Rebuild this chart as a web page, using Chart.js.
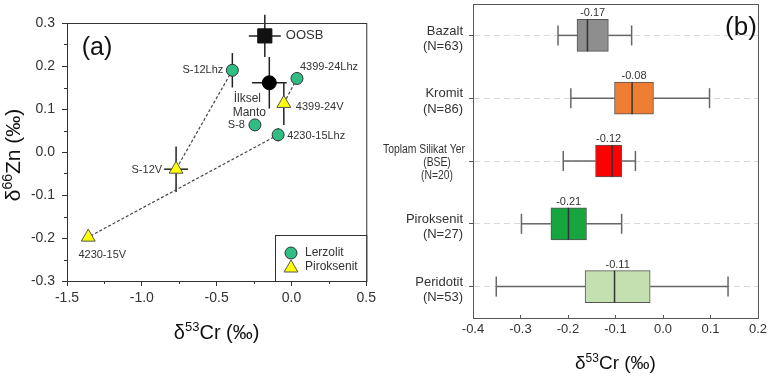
<!DOCTYPE html>
<html>
<head>
<meta charset="utf-8">
<script src="https://cdn.jsdelivr.net/npm/chart.js@4.4.1/dist/chart.umd.min.js"></script>
<style>
  html, body { margin: 0; padding: 0; background: #fff; }
  #wrap { position: relative; width: 771px; height: 376px; }
  #chartA { position: absolute; left: 0; top: 0; }
  #chartB { position: absolute; left: 380px; top: 0; }
</style>
</head>
<body>
<div id="wrap">
  <canvas id="chartA" width="380" height="376"></canvas>
  <canvas id="chartB" width="391" height="376"></canvas>
</div>
<script>
// ---- panel (a): d53Cr vs d66Zn ----
const lerzNames = ['S-12Lhz', '4399-24Lhz', 'S-8', '4230-15Lhz'];
const lerzCr = [-0.395, 0.037, -0.244, -0.089];
const lerzZn = [0.19, 0.171, 0.063, 0.04];
const lerzCrErr = [0, 0, 0, 0];
const lerzZnErr = [0.04, 0, 0, 0.015];

const pirokNames = ['S-12V', '4399-24V', '4230-15V'];
const pirokCr = [-0.771, -0.051, -1.358];
const pirokZn = [-0.04, 0.113, -0.198];
const pirokCrErr = [0.08, 0, 0];
const pirokZnErr = [0.053, 0.05, 0];

// reference reservoirs
const refNames = ['OOSB', 'İlksel Manto'];
const refCr = [-0.178, -0.148];
const refZn = [0.27, 0.161];
const refCrErr = [0.107, 0.116];
const refZnErr = [0.049, 0.06];

// lerzolit index -> piroksenit index (same sample)
const pairs = [[0, 0], [1, 1], [3, 2]];

// ---- panel (b): d53Cr box plots ----
const groups = [
  ['Bazalt', '(N=63)'],
  ['Kromit', '(N=86)'],
  ['Toplam Silikat Yer', '(BSE)', '(N=20)'],
  ['Piroksenit', '(N=27)'],
  ['Peridotit', '(N=53)']
];
const whiskerMin = [-0.221, -0.194, -0.210, -0.298, -0.351];
const q1 = [-0.181, -0.102, -0.142, -0.236, -0.164];
const median = [-0.159, -0.065, -0.107, -0.199, -0.102];
const q3 = [-0.115, -0.020, -0.087, -0.161, -0.027];
const whiskerMax = [-0.066, 0.098, -0.058, -0.087, 0.137];
const means = [-0.17, -0.08, -0.12, -0.21, -0.11];

// styles
const FONT = '"Liberation Sans", Arial, sans-serif';
const INK = '#333';
const boxColors = ['#8e8e8e', '#ee7d31', '#ff0000', '#17a540', '#c4dfb0'];
const lerzColor = '#2fbd84';
const pirokColor = '#ffff00';

// label placement for panel (a), pixels from the marker
const labelPos = {
  'S-12Lhz': [-9, 0, 'right'],
  '4399-24Lhz': [3, -12, 'left'],
  'S-8': [-10, 0, 'right'],
  '4230-15Lhz': [9, 1, 'left'],
  'S-12V': [-14, 1, 'right'],
  '4399-24V': [12, 4, 'left'],
  '4230-15V': [14, 18, 'center']
};

function line(ctx, x1, y1, x2, y2) {
  ctx.beginPath();
  ctx.moveTo(x1, y1);
  ctx.lineTo(x2, y2);
  ctx.stroke();
}

// text with superscript parts: [[text, isSup], ...], centred on cx, baseline at cy
function supText(ctx, parts, cx, cy, size) {
  const big = size + 'px ' + FONT;
  const small = Math.round(size * 0.65) + 'px ' + FONT;
  let w = 0;
  parts.forEach(([t, s]) => { ctx.font = s ? small : big; w += ctx.measureText(t).width; });
  let xx = cx - w / 2;
  ctx.textAlign = 'left';
  ctx.textBaseline = 'alphabetic';
  parts.forEach(([t, s]) => {
    ctx.font = s ? small : big;
    ctx.fillText(t, xx, s ? cy - size * 0.38 : cy);
    xx += ctx.measureText(t).width;
  });
}

function pts(xs, ys) {
  return xs.map((v, i) => ({ x: v, y: ys[i] }));
}

const tieSets = pairs.map(([a, b]) => ({
  data: [{ x: lerzCr[a], y: lerzZn[a] }, { x: pirokCr[b], y: pirokZn[b] }],
  showLine: true,
  borderColor: '#444',
  borderWidth: 1.2,
  borderDash: [3, 2],
  pointRadius: 0,
  order: 10
}));

const panelA = {
  id: 'panelA',
  beforeDatasetsDraw(chart) {
    const { ctx, scales: { x, y } } = chart;
    ctx.save();
    ctx.strokeStyle = '#222';
    ctx.lineWidth = 1.5;
    const bars = (cr, zn, ce, ze) => cr.forEach((v, i) => {
      const px = x.getPixelForValue(v), py = y.getPixelForValue(zn[i]);
      if (ce[i]) line(ctx, x.getPixelForValue(v - ce[i]), py, x.getPixelForValue(v + ce[i]), py);
      if (ze[i]) line(ctx, px, y.getPixelForValue(zn[i] - ze[i]), px, y.getPixelForValue(zn[i] + ze[i]));
    });
    bars(lerzCr, lerzZn, lerzCrErr, lerzZnErr);
    bars(pirokCr, pirokZn, pirokCrErr, pirokZnErr);
    bars(refCr, refZn, refCrErr, refZnErr);
    ctx.restore();
  },
  afterDraw(chart) {
    const { ctx, chartArea: a, scales: { x, y } } = chart;
    ctx.save();
    // frame
    ctx.strokeStyle = INK;
    ctx.lineWidth = 1;
    ctx.strokeRect(a.left + 0.5, a.top + 0.5, a.right - a.left, a.bottom - a.top);
    // minor ticks
    for (let v = -1.25; v < 0.5; v += 0.5) {
      const px = Math.round(x.getPixelForValue(v)) + 0.5;
      line(ctx, px, a.bottom, px, a.bottom + 3);
    }
    for (let v = -0.25; v < 0.3; v += 0.1) {
      const py = Math.round(y.getPixelForValue(v)) + 0.5;
      line(ctx, a.left - 3, py, a.left, py);
    }
    // sample labels
    ctx.fillStyle = INK;
    ctx.textBaseline = 'middle';
    ctx.font = '11px ' + FONT;
    const lab = (names, cr, zn) => names.forEach((n, i) => {
      const p = labelPos[n];
      ctx.textAlign = p[2];
      ctx.fillText(n, x.getPixelForValue(cr[i]) + p[0], y.getPixelForValue(zn[i]) + p[1]);
    });
    lab(lerzNames, lerzCr, lerzZn);
    lab(pirokNames, pirokCr, pirokZn);
    // reference labels
    ctx.font = '13px ' + FONT;
    ctx.textAlign = 'left';
    ctx.fillText(refNames[0], x.getPixelForValue(refCr[0]) + 21, y.getPixelForValue(refZn[0]));
    ctx.font = '12px ' + FONT;
    ctx.textAlign = 'center';
    const mx = x.getPixelForValue(refCr[1]) - 22, my = y.getPixelForValue(refZn[1]);
    const [w1, w2] = refNames[1].split(' ');
    ctx.fillText(w1, mx, my + 16);
    ctx.fillText(w2, mx + 2, my + 30);
    // panel letter
    ctx.font = '25px ' + FONT;
    ctx.fillStyle = '#111';
    ctx.fillText('(a)', 97, 48);
    // legend
    const lx = 275, ly = 235;
    ctx.fillStyle = '#fff';
    ctx.fillRect(lx, ly, a.right - lx, a.bottom - ly);
    ctx.strokeStyle = INK;
    ctx.strokeRect(lx + 0.5, ly + 0.5, a.right - lx, a.bottom - ly);
    ctx.lineWidth = 1;
    ctx.fillStyle = lerzColor;
    ctx.strokeStyle = '#333';
    Chart.helpers.drawPoint(ctx, { pointStyle: 'circle', radius: 6, rotation: 0, borderWidth: 1 }, 291, 253);
    ctx.fillStyle = pirokColor;
    ctx.strokeStyle = '#555';
    Chart.helpers.drawPoint(ctx, { pointStyle: 'triangle', radius: 8, rotation: 0, borderWidth: 1 }, 291, 268);
    ctx.fillStyle = INK;
    ctx.font = '12px ' + FONT;
    ctx.textAlign = 'left';
    ctx.fillText('Lerzolit', 305, 253);
    ctx.fillText('Piroksenit', 305, 267);
    // axis titles
    ctx.fillStyle = '#111';
    supText(ctx, [['δ', false], ['53', true], ['Cr (‰)', false]], (a.left + a.right) / 2, 339, 20);
    ctx.translate(13, 155);
    ctx.rotate(-Math.PI / 2);
    supText(ctx, [['δ', false], ['66', true], ['Zn (‰)', false]], 0, 7, 21);
    ctx.restore();
  }
};

new Chart(document.getElementById('chartA'), {
  type: 'scatter',
  data: {
    datasets: [
      { label: 'Lerzolit', data: pts(lerzCr, lerzZn), pointStyle: 'circle', pointRadius: 6,
        backgroundColor: lerzColor, borderColor: '#333', borderWidth: 1, order: 2 },
      { label: 'Piroksenit', data: pts(pirokCr, pirokZn), pointStyle: 'triangle', pointRadius: 8,
        backgroundColor: pirokColor, borderColor: '#555', borderWidth: 1, order: 1 },
      { label: refNames[0], data: [{ x: refCr[0], y: refZn[0] }], pointStyle: 'rect', pointRadius: 10,
        backgroundColor: '#111', borderColor: '#111', borderWidth: 1, order: 3 },
      { label: refNames[1], data: [{ x: refCr[1], y: refZn[1] }], pointStyle: 'circle', pointRadius: 7,
        backgroundColor: '#000', borderColor: '#000', borderWidth: 1, order: 3 },
      ...tieSets
    ]
  },
  options: {
    responsive: false,
    animation: false,
    layout: { padding: { top: 23, right: 11, left: 0, bottom: 0 } },
    plugins: { legend: { display: false }, tooltip: { enabled: false } },
    scales: {
      x: {
        type: 'linear', min: -1.5, max: 0.5,
        ticks: { stepSize: 0.5, color: INK, padding: 4, font: { size: 14, family: FONT },
          callback: v => v.toFixed(1) },
        grid: { drawOnChartArea: false, tickLength: 5, color: INK },
        border: { color: INK },
        afterFit: s => { s.height = 95; }
      },
      y: {
        min: -0.3, max: 0.3,
        ticks: { stepSize: 0.1, color: INK, padding: 7, font: { size: 14, family: FONT },
          callback: v => v.toFixed(1) },
        grid: { drawOnChartArea: false, tickLength: 5, color: INK },
        border: { color: INK },
        afterFit: s => { s.width = 67; }
      }
    }
  },
  plugins: [panelA]
});

const panelB = {
  id: 'panelB',
  beforeDatasetsDraw(chart) {
    const { ctx, scales: { x, y } } = chart;
    ctx.save();
    ctx.strokeStyle = '#666';
    ctx.lineWidth = 1.5;
    groups.forEach((g, i) => {
      const py = y.getPixelForValue(i);
      const a = x.getPixelForValue(whiskerMin[i]), b = x.getPixelForValue(whiskerMax[i]);
      line(ctx, a, py, x.getPixelForValue(q1[i]), py);
      line(ctx, x.getPixelForValue(q3[i]), py, b, py);
      line(ctx, a, py - 10, a, py + 10);
      line(ctx, b, py - 10, b, py + 10);
    });
    ctx.restore();
  },
  afterDatasetsDraw(chart) {
    const { ctx, scales: { x, y } } = chart;
    ctx.save();
    ctx.strokeStyle = '#333';
    ctx.lineWidth = 1.5;
    ctx.fillStyle = INK;
    ctx.font = '11px ' + FONT;
    ctx.textAlign = 'center';
    ctx.textBaseline = 'middle';
    groups.forEach((g, i) => {
      const py = y.getPixelForValue(i);
      const m = x.getPixelForValue(median[i]);
      line(ctx, m, py - 16, m, py + 16);
      const c = (x.getPixelForValue(q1[i]) + x.getPixelForValue(q3[i])) / 2;
      ctx.fillText(means[i].toFixed(2), c, py - 22);
    });
    ctx.restore();
  },
  afterDraw(chart) {
    const { ctx, chartArea: a, scales: { x, y } } = chart;
    ctx.save();
    ctx.strokeStyle = '#555';
    ctx.lineWidth = 1;
    ctx.strokeRect(a.left + 0.5, a.top + 0.5, a.right - a.left, a.bottom - a.top);
    for (let v = -0.3; v < 0.15; v += 0.1) {
      const px = Math.round(x.getPixelForValue(v)) + 0.5;
      line(ctx, px, a.bottom - 3, px, a.bottom);
    }
    // category labels, placed on the category scale
    ctx.fillStyle = INK;
    ctx.textBaseline = 'middle';
    ctx.font = '13px ' + FONT;
    groups.forEach((g, i) => {
      const py = y.getPixelForValue(i);
      const narrow = g.length > 2;
      const lh = narrow ? 13.3 : 15.5;
      const top = py - (g.length - 1) * lh / 2 + (narrow ? 1.3 : 3.3);
      // the long label is squeezed to fit 82px
      const sx = narrow ? 82 / ctx.measureText(g[0]).width : 1;
      g.forEach((t, k) => {
        const ty = top + k * lh;
        if (narrow) {
          ctx.save();
          ctx.translate(k === 0 ? a.left - 8 : a.left - 36, ty);
          ctx.scale(sx, 1);
          ctx.textAlign = k === 0 ? 'right' : 'center';
          ctx.fillText(t, 0, 0);
          ctx.restore();
        } else {
          ctx.textAlign = 'right';
          ctx.fillText(t, a.left - 10, ty);
        }
      });
    });
    ctx.fillStyle = '#111';
    ctx.font = '26px ' + FONT;
    ctx.textAlign = 'center';
    ctx.fillText('(b)', 361, 28);
    supText(ctx, [['δ', false], ['53', true], ['Cr (‰)', false]], (a.left + a.right) / 2, 369, 19);
    ctx.restore();
  }
};

new Chart(document.getElementById('chartB'), {
  type: 'bar',
  data: {
    labels: groups,
    datasets: [{
      data: groups.map((g, i) => [q1[i], q3[i]]),
      backgroundColor: boxColors,
      borderColor: '#555',
      borderWidth: 1,
      borderSkipped: false,
      barThickness: 32
    }]
  },
  options: {
    indexAxis: 'y',
    responsive: false,
    animation: false,
    layout: { padding: { top: 4, right: 6, left: 0, bottom: 0 } },
    plugins: { legend: { display: false }, tooltip: { enabled: false } },
    scales: {
      x: {
        min: -0.4, max: 0.2,
        ticks: { stepSize: 0.1, color: INK, padding: 4, font: { size: 13, family: FONT },
          callback: v => v.toFixed(1) },
        grid: { display: false, drawTicks: false },
        border: { color: '#555' },
        afterFit: s => { s.height = 58; }
      },
      y: {
        ticks: { display: false, autoSkip: false },
        grid: { offset: false, color: '#d9d9d9', tickColor: '#555', tickLength: 4 },
        border: { color: '#555', dash: [6, 4] },
        afterFit: s => { s.width = 93; }
      }
    }
  },
  plugins: [panelB]
});
</script>
</body>
</html>
